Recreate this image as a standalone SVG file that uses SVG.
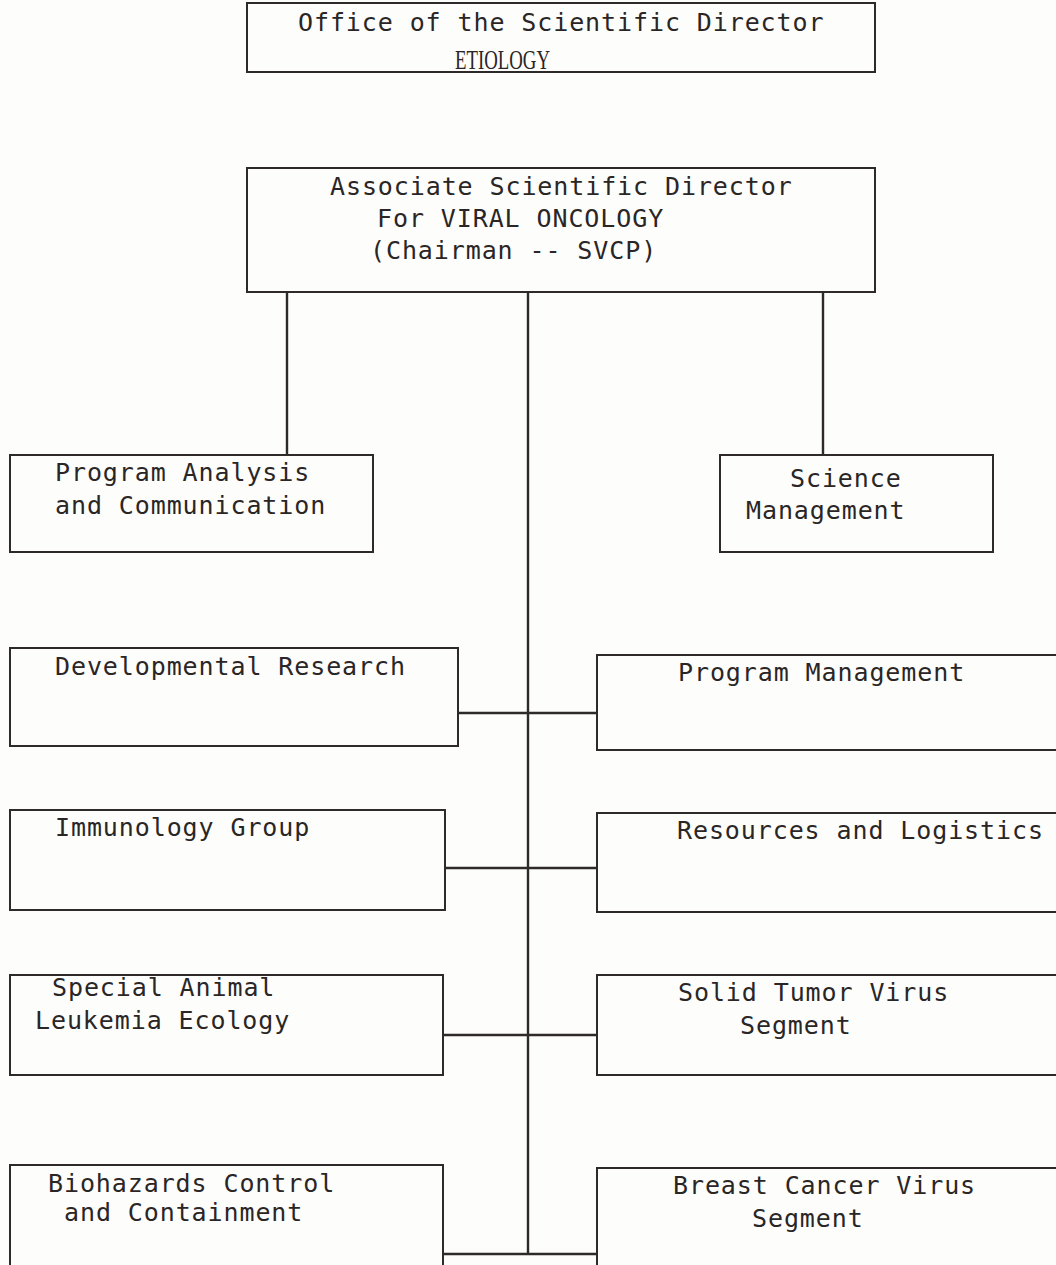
<svg xmlns="http://www.w3.org/2000/svg" width="1056" height="1265" viewBox="0 0 1056 1265">
<style>
.box{fill:none;stroke:#2e2a2a;stroke-width:2}
.ln{fill:none;stroke:#2e2a2a;stroke-width:2.4}
.t{font-family:"DejaVu Sans Mono","Liberation Mono",monospace;font-size:25px;letter-spacing:0.9px;fill:#2a2626}
.s{font-family:"Liberation Serif","Times New Roman",serif;font-size:27px;fill:#2a2626}
</style>
<rect x="0" y="0" width="1056" height="1265" fill="#fdfdfb"/>
<g id="connectors">
<line class="ln" x1="528" y1="292" x2="528" y2="1255"/>
<line class="ln" x1="287" y1="292" x2="287" y2="455"/>
<line class="ln" x1="823" y1="292" x2="823" y2="455"/>
<line class="ln" x1="458" y1="713" x2="597" y2="713"/>
<line class="ln" x1="445" y1="868" x2="597" y2="868"/>
<line class="ln" x1="443" y1="1035" x2="597" y2="1035"/>
<line class="ln" x1="443" y1="1254" x2="597" y2="1254"/>
</g>
<g id="office">
<rect class="box" x="247" y="3" width="628" height="69"/>
<text class="t" x="298" y="31">Office of the Scientific Director</text>
<text class="s" x="455" y="69" textLength="95" lengthAdjust="spacingAndGlyphs">ETIOLOGY</text>
</g>
<g id="associate">
<rect class="box" x="247" y="168" width="628" height="124"/>
<text class="t" x="330" y="195">Associate Scientific Director</text>
<text class="t" x="377" y="227">For VIRAL ONCOLOGY</text>
<text class="t" x="370" y="259">(Chairman -- SVCP)</text>
</g>
<g id="program-analysis">
<rect class="box" x="10" y="455" width="363" height="97"/>
<text class="t" x="55" y="481">Program Analysis</text>
<text class="t" x="55" y="514">and Communication</text>
</g>
<g id="science-management">
<rect class="box" x="720" y="455" width="273" height="97"/>
<text class="t" x="790" y="487">Science</text>
<text class="t" x="746" y="519">Management</text>
</g>
<g id="developmental-research">
<rect class="box" x="10" y="648" width="448" height="98"/>
<text class="t" x="55" y="675">Developmental Research</text>
</g>
<g id="program-management">
<rect class="box" x="597" y="655" width="470" height="95"/>
<text class="t" x="678" y="681">Program Management</text>
</g>
<g id="immunology">
<rect class="box" x="10" y="810" width="435" height="100"/>
<text class="t" x="55" y="836">Immunology Group</text>
</g>
<g id="resources">
<rect class="box" x="597" y="813" width="470" height="99"/>
<text class="t" x="677" y="839">Resources and Logistics</text>
</g>
<g id="special-animal">
<rect class="box" x="10" y="975" width="433" height="100"/>
<text class="t" x="52" y="996">Special Animal</text>
<text class="t" x="35" y="1029">Leukemia Ecology</text>
</g>
<g id="solid-tumor">
<rect class="box" x="597" y="975" width="470" height="100"/>
<text class="t" x="678" y="1001">Solid Tumor Virus</text>
<text class="t" x="740" y="1034">Segment</text>
</g>
<g id="biohazards">
<rect class="box" x="10" y="1165" width="433" height="110"/>
<text class="t" x="48" y="1192">Biohazards Control</text>
<text class="t" x="64" y="1221">and Containment</text>
</g>
<g id="breast-cancer">
<rect class="box" x="597" y="1168" width="470" height="110"/>
<text class="t" x="673" y="1194">Breast Cancer Virus</text>
<text class="t" x="752" y="1227">Segment</text>
</g>
</svg>
